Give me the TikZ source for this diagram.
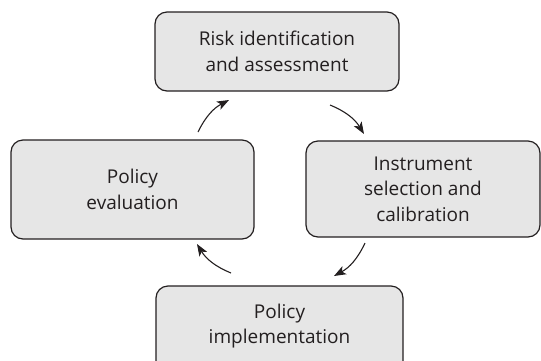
\documentclass[tikz,border=0pt]{standalone}
\usepackage{fontspec}
\setmainfont{Open Sans}
\usetikzlibrary{arrows.meta}
\definecolor{boxfill}{HTML}{E6E6E6}
\definecolor{ink}{HTML}{231F20}
\tikzset{
  stagebox/.style={draw=ink, line width=1.2pt, fill=boxfill, rounded corners=12pt,
    inner sep=0pt, align=center, text=ink,
    font=\fontsize{19}{25.5}\selectfont},
  cyclearrow/.style={draw=ink, line width=1.1pt, bend left=18,
    -{Stealth[length=12pt,width=9pt,inset=3pt]}}
}
\begin{document}
\begin{tikzpicture}[x=1pt,y=-1pt]
\useasboundingbox (0,0) rectangle (541,360);
\clip (0,0) rectangle (541,360);
\node[stagebox, minimum width=244pt, minimum height=79pt] (risk) at (277,51.5)
  {Risk identification\\and assessment};
\node[stagebox, minimum width=243pt, minimum height=99pt] (eval) at (132.5,189.5)
  {Policy\\evaluation};
\node[stagebox, minimum width=234pt, minimum height=96pt] (instr) at (423,189)
  {Instrument\\selection and\\calibration};
\node[stagebox, minimum width=247pt, minimum height=90pt] (impl) at (279.5,331)
  {};
\node[align=center, text=ink, font=\fontsize{19}{25.5}\selectfont] (impltext) at (279.5,326)
  {Policy\\implementation};
\coordinate (a1s) at (198,132);
\coordinate (a1e) at (229,100);
\coordinate (a2s) at (330,105);
\coordinate (a2e) at (364,134);
\coordinate (a3s) at (365,243);
\coordinate (a3e) at (334,276);
\coordinate (a4s) at (231,273);
\coordinate (a4e) at (197,244);
\draw[cyclearrow] (a1s) to (a1e);
\draw[cyclearrow] (a2s) to (a2e);
\draw[cyclearrow] (a3s) to (a3e);
\draw[cyclearrow] (a4s) to (a4e);
\end{tikzpicture}
\end{document}
